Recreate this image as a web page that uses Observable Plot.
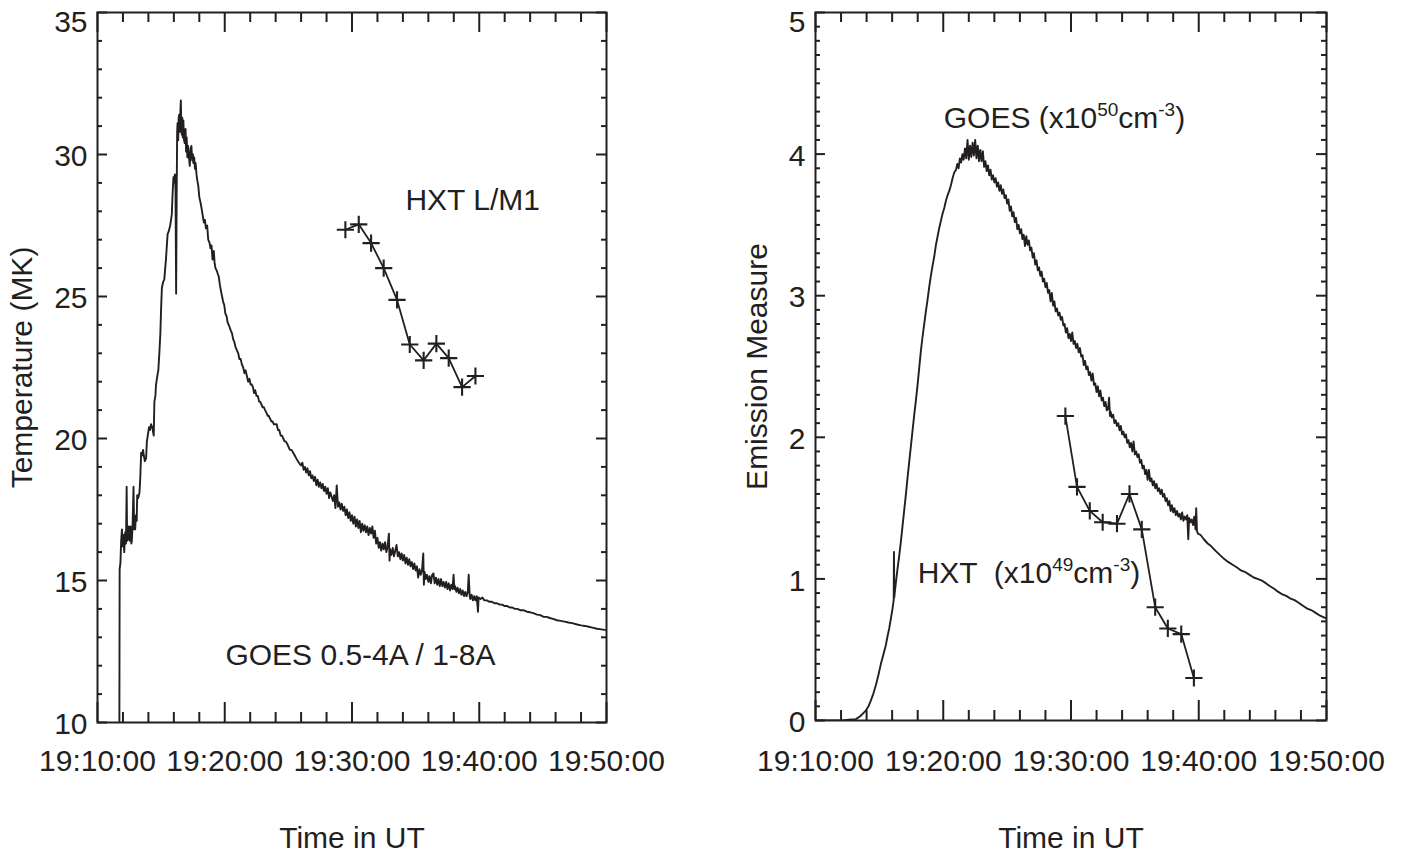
<!DOCTYPE html>
<html><head><meta charset="utf-8">
<script src="https://cdn.jsdelivr.net/npm/d3@7"></script>
<script src="https://cdn.jsdelivr.net/npm/@observablehq/plot@0.6"></script>
<style>
body{margin:0;background:#fff;}
#wrap{position:relative;width:1403px;height:854px;background:#fff;}
#left,#right{position:absolute;top:0;}
#left{left:0}
#right{left:700px}
</style></head><body><div id="wrap"><div id="left"></div><div id="right"></div></div>
<script>
// ---------- data (time = minutes after 19:00 UT) ----------
const xMajorTicks = [10, 20, 30, 40, 50];
const xMinorTicks = [12, 14, 16, 18, 22, 24, 26, 28, 32, 34, 36, 38, 42, 44, 46, 48];
const tempMajorTicks = [10, 15, 20, 25, 30, 35];
const emMajorTicks = [0, 1, 2, 3, 4, 5];

// GOES temperature (MK)
const goesTempTime = [11.72,11.74,11.80,11.86,11.92,11.98,12.04,12.10,12.18,12.24,12.29,12.33,12.39,12.46,12.52,12.60,12.66,12.70,12.76,12.83,12.88,12.96,13.02,13.08,13.12,13.20,13.30,13.36,13.43,13.50,13.58,13.64,13.72,13.82,13.88,13.95,14.05,14.12,14.21,14.30,14.38,14.42,14.47,14.55,14.60,14.70,14.78,14.86,14.94,15.00,15.06,15.15,15.25,15.32,15.38,15.45,15.51,15.60,15.71,15.78,15.84,15.90,15.97,16.03,16.08,16.13,16.18,16.22,16.26,16.29,16.34,16.38,16.42,16.47,16.52,16.55,16.58,16.62,16.66,16.70,16.75,16.80,16.86,16.92,16.96,17.01,17.06,17.12,17.19,17.25,17.32,17.38,17.44,17.50,17.53,17.60,17.66,17.71,17.78,17.84,17.92,18.00,18.10,18.18,18.25,18.36,18.44,18.52,18.62,18.70,18.80,18.88,18.96,19.04,19.14,19.20,19.27,19.38,19.45,19.53,19.62,19.70,19.79,19.88,19.96,20.05,20.15,20.22,20.31,20.40,20.48,20.57,20.66,20.75,20.86,20.96,21.06,21.15,21.25,21.35,21.45,21.55,21.64,21.74,21.84,21.94,22.03,22.13,22.22,22.30,22.39,22.50,22.60,22.70,22.78,22.88,22.98,23.08,23.17,23.28,23.38,23.46,23.56,23.66,23.76,23.86,23.96,24.08,24.18,24.28,24.40,24.50,24.60,24.70,24.80,24.92,25.02,25.12,25.25,25.38,25.50,25.62,25.75,25.90,
26.0,26.1,26.2,26.3,26.4,26.5,26.6,26.7,26.8,26.9,27.0,27.1,27.2,27.3,27.4,27.5,27.6,27.7,27.8,27.9,28.0,28.1,28.2,28.3,28.4,28.5,28.6,28.7,28.8,28.9,29.0,29.1,29.2,29.3,29.4,29.5,29.6,29.7,29.8,29.9,30.0,30.1,30.2,30.3,30.4,30.5,30.6,30.7,30.8,30.9,31.0,31.1,31.2,31.3,31.4,31.5,31.6,31.7,31.8,31.9,32.0,32.1,32.2,32.3,32.4,32.5,32.6,32.7,32.8,32.9,32.95,33.0,33.1,33.2,33.3,33.4,33.5,33.6,33.7,33.8,33.9,34.0,34.1,34.2,34.3,34.4,34.5,34.6,34.7,34.8,34.9,35.0,35.1,35.2,35.3,35.4,35.5,35.6,35.65,35.7,35.8,35.9,36.0,36.1,36.2,36.3,36.4,36.5,36.6,36.7,36.8,36.9,37.0,37.1,37.2,37.3,37.4,37.5,37.6,37.7,37.8,37.9,37.98,38.05,38.1,38.2,38.3,38.4,38.5,38.6,38.7,38.8,38.9,39.0,39.1,39.17,39.25,39.3,39.4,39.5,39.6,39.7,39.8,39.9,39.95,
40.10,40.25,40.40,40.60,40.80,41.00,41.20,41.40,41.60,41.80,42.00,42.20,42.40,42.60,42.80,43.00,43.25,43.50,43.75,44.00,44.25,44.54,44.80,45.05,45.30,45.55,45.80,46.11,46.40,46.70,47.00,47.30,47.70,48.00,48.30,48.60,48.90,49.25,49.60,50.00];
const goesTempValue = [10.0,15.4,15.6,16.4,16.8,16.2,16.6,16.0,16.7,16.3,18.3,16.4,16.5,16.9,16.4,16.9,16.3,16.4,17.0,18.3,16.8,16.8,17.3,17.1,18.0,17.9,18.1,18.6,19.5,19.4,19.6,19.4,19.2,19.3,19.9,20.1,20.4,20.3,20.5,20.4,20.2,20.1,21.3,21.5,21.9,22.2,22.4,23.0,23.7,24.6,25.3,25.5,25.6,26.0,26.3,26.8,27.2,27.3,27.5,27.7,27.9,28.6,29.2,29.0,29.3,28.8,25.1,28.5,30.8,31.1,30.5,31.3,31.4,30.8,31.6,31.9,31.2,30.7,31.3,30.6,31.2,30.5,30.4,30.9,30.1,30.6,29.9,30.3,29.9,29.6,30.2,30.3,29.8,30.0,29.7,29.9,29.5,29.7,29.3,29.1,28.9,28.5,28.3,28.1,27.9,27.6,27.7,27.4,27.5,27.0,26.9,26.7,26.8,26.3,26.6,26.2,26.0,25.9,25.8,25.7,25.4,25.2,25.0,24.8,24.7,24.4,24.3,24.1,24.0,23.9,23.8,23.7,23.5,23.4,23.2,23.1,23.0,22.8,22.8,22.6,22.5,22.3,22.4,22.2,22.0,22.1,21.9,21.9,21.8,21.6,21.7,21.5,21.5,21.3,21.3,21.2,21.1,21.1,21.0,20.9,20.8,20.8,20.7,20.6,20.6,20.5,20.5,20.5,20.3,20.3,20.1,20.1,20.0,19.9,19.9,19.8,19.7,19.6,19.6,19.5,19.4,19.3,19.2,19.1,
19.05,19.15,18.9,19.0,18.8,18.95,18.7,18.85,18.6,18.7,18.5,18.65,18.35,18.55,18.3,18.45,18.25,18.4,18.15,18.3,18.05,18.25,17.9,18.1,17.95,17.8,18.0,17.55,18.35,17.6,17.75,17.5,17.7,17.45,17.6,17.3,17.5,17.2,17.4,17.1,17.3,17.0,17.25,16.9,17.15,16.85,17.1,16.7,17.0,16.75,16.95,16.7,16.9,16.6,16.85,16.65,16.9,16.5,16.75,16.3,16.5,16.15,16.35,16.05,16.3,16.1,16.35,16.0,16.2,16.65,15.7,16.1,15.9,16.15,15.85,16.05,16.25,15.85,16.0,15.75,15.95,15.7,15.9,15.6,15.8,15.55,15.75,15.5,15.65,15.4,15.6,15.35,15.5,15.1,15.4,15.2,15.35,15.95,14.85,15.3,15.05,15.2,14.95,15.15,14.9,15.2,15.25,14.9,15.1,14.85,15.05,14.8,15.05,14.8,14.95,14.75,14.95,14.7,14.9,14.65,14.85,14.7,15.2,14.7,14.8,14.6,14.75,14.55,14.7,14.5,14.65,14.45,14.6,14.45,14.6,15.2,14.45,14.35,14.5,14.3,14.45,14.3,14.45,13.9,14.4,
14.35,14.4,14.3,14.3,14.25,14.25,14.2,14.2,14.15,14.15,14.1,14.1,14.05,14.05,14.0,14.0,13.95,13.95,13.9,13.88,13.85,13.8,13.78,13.72,13.72,13.68,13.65,13.6,13.58,13.55,13.52,13.5,13.45,13.42,13.4,13.37,13.34,13.3,13.28,13.25];

// HXT L/M1 temperature (MK)
const hxtTempTime = [29.48, 30.53, 31.50, 32.49, 33.54, 34.54, 35.63, 36.63, 37.60, 38.65, 39.70];
const hxtTempValue = [27.35, 27.54, 26.88, 26.00, 24.88, 23.31, 22.75, 23.34, 22.83, 21.81, 22.20];

// GOES emission measure (x10^50 cm^-3)
const goesEmTime = [10.00,11.00,12.10,12.60,13.16,13.50,13.94,14.15,14.33,14.53,14.73,14.92,15.12,15.30,15.50,15.65,15.77,15.90,16.03,16.12,16.14,16.17,16.20,16.30,16.42,16.55,16.68,16.82,16.95,17.08,17.20,17.34,17.47,17.60,17.73,17.86,17.99,18.12,18.25,18.38,18.51,18.64,18.77,18.90,19.03,19.16,19.30,19.43,19.56,19.69,19.82,19.95,20.08,20.21,20.34,20.47,20.60,20.73,20.86,
21.0,21.1,21.2,21.3,21.4,21.5,21.6,21.7,21.8,21.9,22.0,22.1,22.2,22.3,22.4,22.5,22.6,22.7,22.8,22.9,23.0,23.1,23.2,23.3,23.4,23.5,23.6,23.7,23.8,23.9,24.0,24.1,24.2,24.3,24.4,24.5,24.6,24.7,24.8,24.9,25.0,25.1,25.2,25.3,25.4,25.5,25.6,25.7,25.8,25.9,26.0,26.1,26.2,26.3,26.4,26.5,26.6,26.7,26.8,26.9,27.0,27.1,27.2,27.3,27.4,27.5,27.6,27.7,27.8,27.9,28.0,28.1,28.2,28.3,28.4,28.5,28.6,28.7,28.8,28.9,29.0,29.1,29.2,29.3,29.4,29.5,29.6,29.7,29.8,29.9,30.0,30.1,30.2,30.3,30.4,30.5,30.6,30.7,30.8,30.9,31.0,31.1,31.2,31.3,31.4,31.5,31.6,31.7,31.8,31.9,32.0,32.1,32.2,32.3,32.4,32.5,32.6,32.7,32.8,32.9,32.98,33.05,33.1,33.2,33.3,33.4,33.5,33.6,33.7,33.8,33.9,34.0,34.1,34.2,34.3,34.4,34.5,34.6,34.7,34.8,34.9,35.0,35.1,35.2,35.3,35.4,35.5,35.6,35.7,35.8,35.9,36.0,36.1,36.2,36.3,36.4,36.5,36.6,36.7,36.8,36.9,37.0,37.1,37.2,37.3,37.4,37.5,37.6,37.7,37.8,37.9,38.0,38.1,38.2,38.3,38.4,38.5,38.6,38.7,38.8,38.9,39.0,39.1,39.18,39.25,39.35,39.45,39.55,39.65,39.75,39.80,39.86,39.93,
40.15,40.40,40.70,40.98,41.30,41.65,42.00,42.30,42.65,43.00,43.30,43.60,43.95,44.30,44.60,44.90,45.25,45.55,45.90,46.20,46.55,46.85,47.20,47.50,47.85,48.15,48.50,48.80,49.15,49.50,49.75,50.00];
const goesEmValue = [0.00,0.00,0.00,0.005,0.01,0.03,0.07,0.10,0.14,0.19,0.25,0.32,0.40,0.46,0.53,0.60,0.65,0.72,0.79,0.85,1.19,0.87,0.90,0.98,1.07,1.16,1.26,1.38,1.49,1.60,1.71,1.83,1.94,2.05,2.16,2.26,2.37,2.49,2.61,2.71,2.80,2.89,2.97,3.06,3.14,3.21,3.28,3.36,3.42,3.48,3.53,3.58,3.62,3.67,3.71,3.74,3.78,3.83,3.87,
3.89,3.93,3.90,3.97,3.94,4.00,3.96,4.04,3.97,4.10,3.96,4.06,3.98,4.08,3.99,4.10,3.97,4.06,3.95,4.03,3.95,4.02,3.91,3.95,3.88,3.92,3.85,3.89,3.82,3.85,3.80,3.83,3.77,3.80,3.74,3.78,3.72,3.75,3.69,3.71,3.65,3.68,3.60,3.63,3.56,3.59,3.52,3.55,3.47,3.50,3.44,3.47,3.40,3.43,3.35,3.42,3.36,3.39,3.32,3.34,3.27,3.30,3.22,3.25,3.18,3.20,3.14,3.17,3.10,3.12,3.06,3.09,3.02,3.04,2.96,3.02,2.93,2.96,2.89,2.91,2.86,2.88,2.83,2.85,2.79,2.80,2.74,2.77,2.70,2.73,2.68,2.74,2.66,2.68,2.63,2.66,2.60,2.63,2.57,2.58,2.51,2.54,2.48,2.50,2.44,2.46,2.40,2.45,2.37,2.38,2.32,2.36,2.29,2.33,2.26,2.28,2.22,2.25,2.19,2.20,2.28,2.15,2.18,2.14,2.16,2.10,2.12,2.08,2.10,2.05,2.08,2.02,2.04,2.00,2.02,1.96,1.98,1.93,1.96,1.90,1.97,1.88,1.90,1.86,1.88,1.82,1.84,1.78,1.80,1.74,1.77,1.70,1.77,1.69,1.71,1.66,1.69,1.64,1.67,1.62,1.64,1.60,1.63,1.58,1.60,1.55,1.57,1.52,1.55,1.48,1.52,1.47,1.50,1.45,1.48,1.44,1.46,1.42,1.47,1.41,1.44,1.42,1.45,1.28,1.43,1.40,1.42,1.38,1.44,1.35,1.50,1.34,1.32,
1.31,1.28,1.25,1.23,1.20,1.17,1.14,1.12,1.10,1.08,1.06,1.05,1.03,1.01,1.00,0.99,0.97,0.95,0.93,0.91,0.89,0.88,0.86,0.85,0.83,0.81,0.79,0.78,0.76,0.74,0.73,0.72];

// HXT emission measure (x10^49 cm^-3)
const hxtEmTime = [29.56, 30.47, 31.47, 32.48, 33.60, 34.58, 35.54, 36.59, 37.58, 38.63, 39.62];
const hxtEmValue = [2.15, 1.65, 1.48, 1.40, 1.39, 1.60, 1.35, 0.80, 0.65, 0.61, 0.30];

// text labels
const leftNotes = [
  {x: 34.2, y: 28.38, text: "HXT L/M1"},
  {x: 20.05, y: 12.36, text: "GOES 0.5-4A / 1-8A"}
];
const rightNotes = [
  {x: 20.04, y: 4.25, text: "GOES (x10{50}cm{-3})"},
  {x: 18.0, y: 1.04, text: "HXT  (x10{49}cm{-3})"}
];

// ---------- drawing ----------
const FONT = '"Liberation Sans", Arial, Helvetica, sans-serif';
const INK = "#231f20";
const FS = 30;

function range(a, b, s) { return d3.range(Math.round(a / s), Math.round(b / s) + 1).map(i => +(i * s).toFixed(4)); }

function panel(o) {
  const height = 854, marginTop = 12;
  const W = o.width - o.marginLeft - o.marginRight;
  const H = height - marginTop - o.marginBottom;
  const yMinor = range(o.yDomain[0], o.yDomain[1], o.yMinorStep).filter(v => !o.yMajor.includes(v));
  const tx = (d, ins) => Plot.tickX(d, {x: v => v, stroke: INK, strokeWidth: 2, ...ins});
  const ty = (d, ins) => Plot.tickY(d, {y: v => v, stroke: INK, strokeWidth: 2, ...ins});
  const svg = Plot.plot({
    width: o.width, height, marginLeft: o.marginLeft, marginRight: o.marginRight,
    marginTop, marginBottom: o.marginBottom,
    style: {fontFamily: FONT, fontSize: FS + "px", color: INK, background: "white", overflow: "visible"},
    x: {domain: [10, 50]},
    y: {domain: o.yDomain},
    marks: [
      Plot.line(d3.zip(o.curveT, o.curveV), {x: "0", y: "1", stroke: INK, strokeWidth: 1.9, clip: true}),
      Plot.line(d3.zip(o.hxtT, o.hxtV), {x: "0", y: "1", stroke: INK, strokeWidth: 1.8}),
      Plot.dot(d3.zip(o.hxtT, o.hxtV), {x: "0", y: "1", symbol: "plus", r: 5.6, stroke: INK, strokeWidth: 2.1}),
      // x ticks (inward, bottom and top)
      tx(xMajorTicks, {insetTop: H - 20}), tx(xMinorTicks, {insetTop: H - 10}),
      tx(xMajorTicks, {insetBottom: H - 20}), tx(xMinorTicks, {insetBottom: H - 10}),
      // y ticks (inward, left and right)
      ty(o.yMajor, {insetRight: W - 10}), ty(yMinor, {insetRight: W - 5}),
      ty(o.yMajor, {insetLeft: W - 10}), ty(yMinor, {insetLeft: W - 5}),
      Plot.frame({stroke: INK, strokeWidth: 2}),
      Plot.axisX(xMajorTicks, {tickSize: 0, tickPadding: o.xPad, fontSize: FS, tickFormat: d => `19:${d}:00`, label: null}),
      Plot.axisY(o.yMajor.slice(0, -1), {tickSize: 0, tickPadding: 10, dy: 2, fontSize: FS, tickFormat: d => String(d), label: null}),
      Plot.axisY(o.yMajor.slice(-1), {tickSize: 0, tickPadding: 10, dy: 10, fontSize: FS, tickFormat: d => String(d), label: null}),
      Plot.text(["Time in UT"], {frameAnchor: "bottom", lineAnchor: "middle", dy: o.xTitleDy, fontSize: FS, fill: INK}),
      Plot.text([o.yLabel], {frameAnchor: "left", textAnchor: "middle", lineAnchor: "middle", dx: o.yLabelDx, rotate: -90, fontSize: FS, fill: INK}),
      Plot.text(o.notes, {x: "x", y: "y", text: "text", textAnchor: "start", fontSize: FS, fill: INK})
    ]
  });
  // superscripts marked with {...}
  d3.select(svg).selectAll("text").each(function () {
    const t = this.textContent;
    if (!t.includes("{")) return;
    const el = d3.select(this);
    el.text(null);
    const parts = t.split(/(\{[^}]*\})/).filter(s => s.length);
    let up = false;
    for (const p of parts) {
      if (p.startsWith("{")) {
        el.append("tspan").attr("font-size", 19).attr("dy", up ? 0 : -12).text(p.slice(1, -1));
        up = true;
      } else {
        el.append("tspan").attr("dy", up ? 12 : 0).text(p);
        up = false;
      }
    }
  });
  return svg;
}

document.getElementById("left").append(panel({
  width: 700, marginLeft: 97, marginRight: 94, marginBottom: 132,
  yDomain: [10, 35], yMajor: tempMajorTicks, yMinorStep: 1,
  yLabel: "Temperature (MK)", yLabelDx: -75, xPad: 27, xTitleDy: 116,
  curveT: goesTempTime, curveV: goesTempValue,
  hxtT: hxtTempTime, hxtV: hxtTempValue, notes: leftNotes
}));
document.getElementById("right").append(panel({
  width: 703, marginLeft: 115, marginRight: 77, marginBottom: 134,
  yDomain: [0, 5], yMajor: emMajorTicks, yMinorStep: 0.1,
  yLabel: "Emission Measure", yLabelDx: -58, xPad: 29, xTitleDy: 118,
  curveT: goesEmTime, curveV: goesEmValue,
  hxtT: hxtEmTime, hxtV: hxtEmValue, notes: rightNotes
}));
</script>
</body></html>
